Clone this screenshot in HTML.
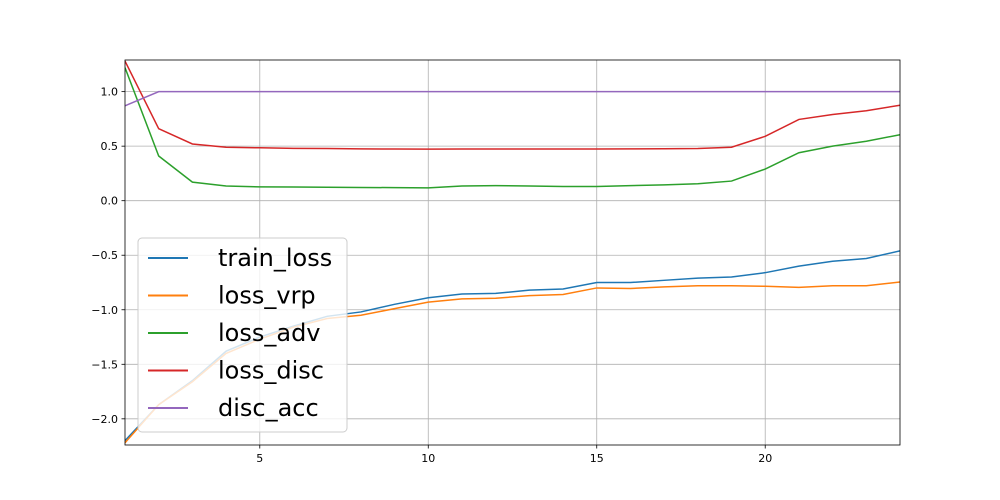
<!DOCTYPE html>
<html><head><meta charset="utf-8"><style>
body{margin:0;background:#fff;}
svg{display:block;font-family:"DejaVu Sans","Liberation Sans",sans-serif;}
</style></head><body>
<svg id="chart" width="1000" height="500"></svg>
<script>
const epochs=[1,2,3,4,5,6,7,8,9,10,11,12,13,14,15,16,17,18,19,20,21,22,23,24];
const trainLoss=[-2.2,-1.87,-1.65,-1.38,-1.25,-1.15,-1.06,-1.02,-0.95,-0.89,-0.855,-0.85,-0.82,-0.81,-0.75,-0.75,-0.73,-0.71,-0.70,-0.66,-0.60,-0.555,-0.53,-0.46];
const lossVrp=[-2.22,-1.87,-1.66,-1.40,-1.27,-1.16,-1.08,-1.05,-0.99,-0.93,-0.90,-0.895,-0.87,-0.86,-0.80,-0.805,-0.79,-0.78,-0.78,-0.785,-0.795,-0.78,-0.78,-0.745];
const lossAdv=[1.22,0.41,0.17,0.135,0.127,0.125,0.123,0.121,0.12,0.118,0.135,0.138,0.135,0.13,0.13,0.138,0.145,0.155,0.18,0.29,0.44,0.50,0.545,0.605];
const lossDisc=[1.28,0.66,0.52,0.49,0.485,0.48,0.478,0.475,0.474,0.473,0.474,0.474,0.474,0.474,0.474,0.475,0.476,0.478,0.49,0.59,0.745,0.79,0.825,0.875];
const discAcc=[0.87,1,1,1,1,1,1,1,1,1,1,1,1,1,1,1,1,1,1,1,1,1,1,1];
const xTicks=[5,10,15,20];
const yTicks=[1.0,0.5,0.0,-0.5,-1.0,-1.5,-2.0];
const seriesNames=["train_loss","loss_vrp","loss_adv","loss_disc","disc_acc"];
const seriesData=[trainLoss,lossVrp,lossAdv,lossDisc,discAcc];
const colors=["#1f77b4","#ff7f0e","#2ca02c","#d62728","#9467bd"];

const L=125,R=900,T=60,B=445,xMin=1,xMax=24,yMin=-2.24,yMax=1.29;
const sx=v=>L+(v-xMin)/(xMax-xMin)*(R-L);
const sy=v=>B-(v-yMin)/(yMax-yMin)*(B-T);
const svg=document.getElementById('chart');
const NS="http://www.w3.org/2000/svg";
function mk(tag,attrs,parent){const e=document.createElementNS(NS,tag);for(const k in attrs)e.setAttribute(k,attrs[k]);(parent||svg).appendChild(e);return e;}

const grid=mk('g',{});


xTicks.forEach(t=>{
  const x=sx(t);
  const gl=mk('line',{x1:x,x2:x,y1:T,y2:B,stroke:'#b0b0b0','stroke-width':0.8},grid);
  
  
  mk('line',{x1:x,x2:x,y1:B,y2:B+3.5,stroke:'#000','stroke-width':0.8});
  const tx=mk('text',{x:x,y:B+17,'text-anchor':'middle','font-size':11});
  tx.textContent=t;
  
  
});
yTicks.forEach(t=>{
  const y=sy(t);
  const gl=mk('line',{x1:L,x2:R,y1:y,y2:y,stroke:'#b0b0b0','stroke-width':0.8},grid);
  
  
  mk('line',{x1:L-3.5,x2:L,y1:y,y2:y,stroke:'#000','stroke-width':0.8});
  const tx=mk('text',{x:L-7,y:y+4,'text-anchor':'end','font-size':11});
  tx.textContent=(t<0?'\u2212':'')+Math.abs(t).toFixed(1);
  
  
});

const cp=mk('clipPath',{id:'clip'});mk('rect',{x:L,y:T,width:R-L,height:B-T},cp);
seriesData.forEach((d,i)=>{
  const p=mk('polyline',{points:d.map((v,j)=>sx(epochs[j])+','+sy(v)).join(' '),fill:'none',stroke:colors[i],'stroke-width':1.5,'clip-path':'url(#clip)'});
  
  
});
const frame=mk('rect',{x:L,y:T,width:R-L,height:B-T,fill:'none',stroke:'#000','stroke-width':0.8});



const lg=mk('g',{});


mk('rect',{x:138,y:238,width:209,height:194,rx:4,fill:'#fff','fill-opacity':0.8,stroke:'#ccc'},lg);
seriesNames.forEach((n,i)=>{
  const y=258+i*37.5;
  const e=mk('g',{},lg);
  
  
  mk('line',{x1:148,x2:188,y1:y,y2:y,stroke:colors[i],'stroke-width':2},e);
  const t=mk('text',{x:218,y:y+8,'font-size':24},e);
  t.textContent=n;
});
</script>
</body></html>
